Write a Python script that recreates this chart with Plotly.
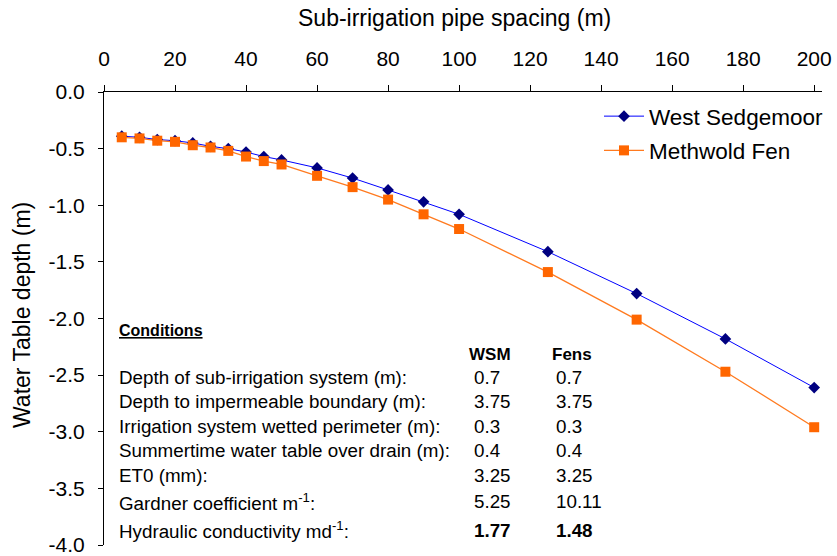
import plotly.graph_objects as go

# Pipe spacing (m) and modelled water-table depth (m) for the two sites
spacing_m = [5, 10, 15, 20, 25, 30, 35, 40, 45, 50, 60, 70, 80, 90, 100, 125, 150, 175, 200]
west_sedgemoor = [-0.39, -0.40, -0.42, -0.43, -0.45, -0.48, -0.50, -0.53, -0.57, -0.60,
                  -0.67, -0.76, -0.865, -0.97, -1.08, -1.41, -1.78, -2.18, -2.61]
methwold_fen = [-0.40, -0.41, -0.43, -0.44, -0.47, -0.49, -0.52, -0.57, -0.61, -0.64,
                -0.74, -0.84, -0.95, -1.08, -1.21, -1.59, -2.01, -2.47, -2.96]

x_ticks = [0, 20, 40, 60, 80, 100, 120, 140, 160, 180, 200]
y_ticks = [0.0, -0.5, -1.0, -1.5, -2.0, -2.5, -3.0, -3.5, -4.0]
y_tick_text = ["0.0", "-0.5", "-1.0", "-1.5", "-2.0", "-2.5", "-3.0", "-3.5", "-4.0"]

# Model conditions table
condition_labels = [
    "Depth of sub-irrigation system (m):",
    "Depth to impermeable boundary (m):",
    "Irrigation system wetted perimeter (m):",
    "Summertime water table over drain (m):",
    "ET0 (mm):",
    "Gardner coefficient m<sup>-1</sup>:",
    "Hydraulic conductivity md<sup>-1</sup>:",
]
wsm_values = ["0.7", "3.75", "0.3", "0.4", "3.25", "5.25", "<b>1.77</b>"]
fens_values = ["0.7", "3.75", "0.3", "0.4", "3.25", "10.11", "<b>1.48</b>"]

FONT = "Arial, 'Liberation Sans', sans-serif"
W, H = 837, 556
M_L, M_R, M_T, M_B = 104, 15, 92, 11
PW, PH = W - M_L - M_R, H - M_T - M_B


def px_x(x):
    return (x - M_L) / PW


def px_y(y):
    return (H - M_B - y) / PH


fig = go.Figure()
fig.add_trace(go.Scatter(
    x=spacing_m, y=west_sedgemoor, name="West Sedgemoor", mode="lines+markers",
    line=dict(color="#0000FF", width=1),
    marker=dict(symbol="diamond", size=9, color="#000080", line=dict(width=0)),
    legendgroup="a",
))
fig.add_trace(go.Scatter(
    x=spacing_m, y=methwold_fen, name="Methwold Fen", mode="lines+markers",
    line=dict(color="#FF7A1F", width=1.3),
    marker=dict(symbol="square", size=10, color="#FF6600", line=dict(width=0)),
    legendgroup="b",
))

annotations = [
    dict(text="Sub-irrigation pipe spacing (m)", x=px_x(454), y=px_y(18),
         font=dict(size=23)),
    dict(text="Water Table depth (m)", x=px_x(22), y=px_y(315), textangle=-90,
         font=dict(size=23)),
    dict(text="<b><u>Conditions</u></b>", x=px_x(117), y=px_y(330.5), xanchor="left",
         font=dict(size=16)),
    dict(text="<b>WSM</b>", x=px_x(467), y=px_y(354), xanchor="left", font=dict(size=17)),
    dict(text="<b>Fens</b>", x=px_x(550), y=px_y(354), xanchor="left", font=dict(size=17)),
]
row_y_px = [377.5, 401.7, 426, 450.5, 475, 501.5, 530]
for label, wv, fv, ry in zip(condition_labels, wsm_values, fens_values, row_y_px):
    annotations.append(dict(text=label, x=px_x(117), y=px_y(ry), xanchor="left"))
    annotations.append(dict(text=wv, x=px_x(472), y=px_y(ry), xanchor="left"))
    annotations.append(dict(text=fv, x=px_x(554), y=px_y(ry), xanchor="left"))
for a in annotations:
    a.setdefault("font", dict(size=18.8))
    a["font"].setdefault("family", FONT)
    a["font"].setdefault("color", "black")
    a.update(xref="paper", yref="paper", showarrow=False, yanchor="middle")
    a.setdefault("xanchor", "center")

fig.update_layout(
    width=W, height=H,
    margin=dict(l=M_L, r=M_R, t=M_T, b=M_B, pad=0, autoexpand=False),
    paper_bgcolor="white", plot_bgcolor="white",
    font=dict(family=FONT, size=21, color="black"),
    showlegend=True,
    legend=dict(x=px_x(599), y=px_y(95), xanchor="left", yanchor="top",
                bgcolor="rgba(0,0,0,0)", borderwidth=0, itemwidth=40,
                tracegroupgap=2, font=dict(size=22.5)),
    annotations=annotations,
    xaxis=dict(
        side="top", range=[0, 202.2], tickvals=x_ticks, ticks="outside", ticklen=6,
        tickcolor="black", showline=True, linecolor="black", linewidth=1,
        showgrid=False, zeroline=False, tickfont=dict(size=21), ticklabelstandoff=11,
        automargin=False, ticklabeloverflow="allow",
    ),
    yaxis=dict(
        range=[-4, 0], tickvals=y_ticks, ticktext=y_tick_text, ticks="outside", ticklen=5,
        tickcolor="black", showline=True, linecolor="black", linewidth=1,
        showgrid=False, zeroline=False, tickfont=dict(size=21), ticklabelstandoff=9,
        automargin=False, ticklabeloverflow="allow",
    ),
)

fig.write_html("out.html")
